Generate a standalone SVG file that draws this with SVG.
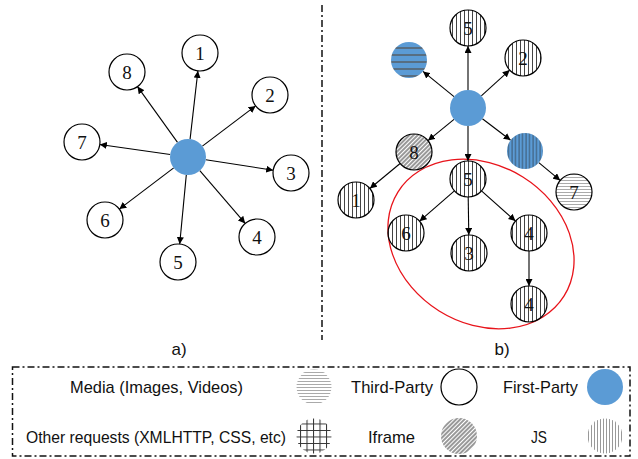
<svg xmlns="http://www.w3.org/2000/svg" width="638" height="459" viewBox="0 0 638 459">
<style>
.nd{stroke:#000;stroke-width:1.2}
.num{font-family:"Liberation Serif",serif;font-size:19px;text-anchor:middle;fill:#111}
.lbl{font-family:"Liberation Sans",Arial,sans-serif;font-size:17px;fill:#111}
.ed{stroke:#000;stroke-width:1.1;fill:none;marker-end:url(#ah)}
.dd{fill:none;stroke:#111;stroke-width:1.5;stroke-dasharray:7 3 2 3}
</style>
<defs>
<marker id="ah" viewBox="0 0 10 10" refX="10" refY="5" markerWidth="7" markerHeight="7" markerUnits="userSpaceOnUse" orient="auto"><path d="M0,0 L10,5 L0,10 z" fill="#000"/></marker>
<pattern id="js" patternUnits="userSpaceOnUse" width="4" height="4"><rect width="4" height="4" fill="#fff"/><line x1="0.5" y1="0" x2="0.5" y2="4" stroke="#444" stroke-width="1"/></pattern>
<pattern id="jsl" patternUnits="userSpaceOnUse" width="3" height="3"><rect width="3" height="3" fill="#fff"/><line x1="0.5" y1="0" x2="0.5" y2="3" stroke="#999" stroke-width="1"/></pattern>
<pattern id="media" patternUnits="userSpaceOnUse" width="3" height="3"><rect width="3" height="3" fill="#fff"/><line x1="0" y1="0.5" x2="3" y2="0.5" stroke="#aaa" stroke-width="1"/></pattern>
<pattern id="ifr" patternUnits="userSpaceOnUse" width="3" height="3" patternTransform="rotate(45)"><rect width="3" height="3" fill="#fff"/><line x1="1" y1="0" x2="1" y2="3" stroke="#333" stroke-width="1"/></pattern>
<pattern id="grid" patternUnits="userSpaceOnUse" width="6.5" height="6.5" x="1" y="1"><rect width="6.5" height="6.5" fill="#fff"/><path d="M0.5,0 V6.5 M0,0.5 H6.5" stroke="#333" stroke-width="1"/></pattern>
<pattern id="bh" patternUnits="userSpaceOnUse" width="7" height="7"><rect width="7" height="7" fill="#5B9BD5"/><line x1="0" y1="6" x2="7" y2="6" stroke="#555" stroke-width="1.3"/></pattern>
<pattern id="bv" patternUnits="userSpaceOnUse" width="3.5" height="3.5"><rect width="3.5" height="3.5" fill="#5B9BD5"/><line x1="1" y1="0" x2="1" y2="3.5" stroke="#345" stroke-width="0.8"/></pattern>
</defs>
<rect width="638" height="459" fill="#fff"/>

<!-- panel a -->
<g id="a-edges">
<line class="ed" x1="190.1" y1="139.1" x2="197.9" y2="70.9"/>
<line class="ed" x1="177.5" y1="142.4" x2="137.5" y2="86.6"/>
<line class="ed" x1="202.4" y1="146.1" x2="255.6" y2="105.9"/>
<line class="ed" x1="170.2" y1="154.5" x2="99.8" y2="144.5"/>
<line class="ed" x1="205.8" y1="159.8" x2="273.2" y2="170.2"/>
<line class="ed" x1="173.7" y1="167.9" x2="119.3" y2="209.1"/>
<line class="ed" x1="199.8" y1="170.6" x2="245.2" y2="223.4"/>
<line class="ed" x1="186.3" y1="174.9" x2="179.7" y2="244.1"/>
</g>
<g id="a-center"><circle cx="188" cy="157" r="18" fill="#5B9BD5"/></g>
<g id="a-n1"><circle class="nd" cx="200" cy="53" r="18" fill="#fff"/><text class="num" x="200" y="60">1</text></g>
<g id="a-n2"><circle class="nd" cx="270" cy="95" r="18" fill="#fff"/><text class="num" x="270" y="102">2</text></g>
<g id="a-n3"><circle class="nd" cx="291" cy="173" r="18" fill="#fff"/><text class="num" x="291" y="180">3</text></g>
<g id="a-n4"><circle class="nd" cx="257" cy="237" r="18" fill="#fff"/><text class="num" x="257" y="244">4</text></g>
<g id="a-n5"><circle class="nd" cx="178" cy="262" r="18" fill="#fff"/><text class="num" x="178" y="269">5</text></g>
<g id="a-n6"><circle class="nd" cx="105" cy="220" r="18" fill="#fff"/><text class="num" x="105" y="227">6</text></g>
<g id="a-n7"><circle class="nd" cx="82" cy="142" r="18" fill="#fff"/><text class="num" x="82" y="149">7</text></g>
<g id="a-n8"><circle class="nd" cx="127" cy="72" r="18" fill="#fff"/><text class="num" x="127" y="79">8</text></g>
<text class="lbl" x="179" y="355" text-anchor="middle">a)</text>

<!-- divider -->
<line class="dd" x1="322" y1="5" x2="322" y2="340"/>

<!-- panel b -->
<ellipse cx="481" cy="244" rx="98" ry="79" transform="rotate(32 481 244)" fill="none" stroke="#e8141b" stroke-width="1.3"/>
<g id="b-edges">
<line class="ed" x1="468" y1="90" x2="468" y2="46"/>
<line class="ed" x1="454" y1="96.6" x2="423" y2="71.4"/>
<line class="ed" x1="481.3" y1="95.9" x2="509.7" y2="70.1"/>
<line class="ed" x1="454" y1="119.4" x2="428" y2="140.6"/>
<line class="ed" x1="468" y1="126" x2="468" y2="161"/>
<line class="ed" x1="482.4" y1="118.8" x2="510.6" y2="140.2"/>
<line class="ed" x1="400.1" y1="163.5" x2="369.9" y2="188.5"/>
<line class="ed" x1="538.8" y1="162.6" x2="560.2" y2="180.4"/>
<line class="ed" x1="454.4" y1="190.8" x2="419.6" y2="221.2"/>
<line class="ed" x1="468.2" y1="197" x2="468.8" y2="235"/>
<line class="ed" x1="481.5" y1="190.9" x2="515.5" y2="221.1"/>
<line class="ed" x1="529" y1="251" x2="529" y2="286"/>
</g>
<g id="b-center"><circle cx="468" cy="108" r="18" fill="#5B9BD5"/></g>
<g id="b-n5top"><circle class="nd" cx="468" cy="28" r="18" fill="url(#js)"/><text class="num" x="468" y="35">5</text></g>
<g id="b-fpmedia"><circle cx="409" cy="60" r="18" fill="url(#bh)"/></g>
<g id="b-n2"><circle class="nd" cx="523" cy="58" r="18" fill="url(#js)"/><text class="num" x="523" y="65">2</text></g>
<g id="b-n8"><circle class="nd" cx="414" cy="152" r="18" fill="url(#ifr)"/><text class="num" x="414" y="159">8</text></g>
<g id="b-fpjs"><circle cx="525" cy="151" r="18" fill="url(#bv)"/></g>
<g id="b-n5mid"><circle class="nd" cx="468" cy="179" r="18" fill="url(#js)"/><text class="num" x="468" y="186">5</text></g>
<g id="b-n1"><circle class="nd" cx="356" cy="200" r="18" fill="url(#js)"/><text class="num" x="356" y="207">1</text></g>
<g id="b-n7"><circle class="nd" cx="574" cy="192" r="18" fill="url(#media)"/><text class="num" x="574" y="199">7</text></g>
<g id="b-n6"><circle class="nd" cx="406" cy="233" r="18" fill="url(#js)"/><text class="num" x="406" y="240">6</text></g>
<g id="b-n3"><circle class="nd" cx="469" cy="253" r="18" fill="url(#js)"/><text class="num" x="469" y="260">3</text></g>
<g id="b-n4"><circle class="nd" cx="529" cy="233" r="18" fill="url(#js)"/><text class="num" x="529" y="240">4</text></g>
<g id="b-n4b"><circle class="nd" cx="529" cy="304" r="18" fill="url(#js)"/><text class="num" x="529" y="311">4</text></g>
<text class="lbl" x="502" y="355" text-anchor="middle">b)</text>

<!-- legend -->
<g id="legend">
<rect class="dd" x="12.5" y="367" width="617.5" height="89"/>
<text class="lbl" x="70" y="393" textLength="173" lengthAdjust="spacingAndGlyphs">Media (Images, Videos)</text>
<circle cx="314" cy="387" r="17.5" fill="url(#media)"/>
<text class="lbl" x="351" y="393" textLength="82" lengthAdjust="spacingAndGlyphs">Third-Party</text>
<circle class="nd" cx="459" cy="387" r="18" fill="#fff"/>
<text class="lbl" x="503" y="393" textLength="75" lengthAdjust="spacingAndGlyphs">First-Party</text>
<circle cx="605" cy="387" r="18" fill="#5B9BD5"/>
<text class="lbl" x="26" y="443" textLength="260" lengthAdjust="spacingAndGlyphs">Other requests (XMLHTTP, CSS, etc)</text>
<circle cx="314" cy="436" r="17.5" fill="url(#grid)"/>
<text class="lbl" x="368" y="443" textLength="47" lengthAdjust="spacingAndGlyphs">Iframe</text>
<circle cx="459" cy="436" r="18" fill="url(#ifr)"/>
<text class="lbl" x="531" y="443" textLength="16" lengthAdjust="spacingAndGlyphs">JS</text>
<circle cx="605" cy="436" r="17.5" fill="url(#jsl)"/>
</g>
</svg>
